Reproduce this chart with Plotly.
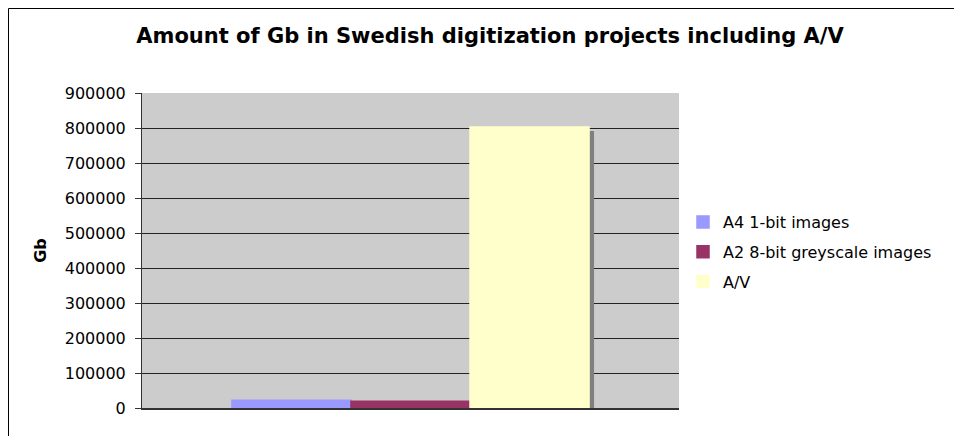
import plotly.graph_objects as go

categories = [""]
series_names = ["A4 1-bit images", "A2 8-bit greyscale images", "A/V"]
series_values = [[22000], [19500], [803000]]
colors = ["#9999FF", "#993366", "#FFFFCC"]
y_ticks = [0, 100000, 200000, 300000, 400000, 500000, 600000, 700000, 800000, 900000]

# page body has an 8px margin; figure sized so that it fits the 962x436 window
OFF = 8
W, H = 962 - OFF, 436 - OFF
L, T = 142 - OFF, 93 - OFF
R = W - (679 - OFF)
B = H - (408 - OFF)
pw, ph = W - L - R, H - T - B

ymax = 900000
dx = 5 / pw          # shadow offset (category units)
dy = 4 / ph * ymax   # shadow offset (value units)

fig = go.Figure()

# shadows on base axes
for name, vals in zip(series_names, series_values):
    fig.add_trace(go.Bar(x=categories, y=vals, marker=dict(color="#808080", line=dict(width=0)),
                         showlegend=False, hoverinfo="skip", xaxis="x", yaxis="y"))

# real bars on overlay axes
for i, (name, vals, c) in enumerate(zip(series_names, series_values, colors)):
    fig.add_trace(go.Bar(x=categories, y=vals, name=name, legendgroup=str(i),
                         marker=dict(color=c, line=dict(width=1.5, color=c)),
                         xaxis="x2", yaxis="y2"))

font = "Verdana, DejaVu Sans, sans-serif"
fig.update_layout(
    width=W, height=H,
    margin=dict(l=L, r=R, t=T, b=B),
    paper_bgcolor="white",
    plot_bgcolor="#CCCCCC",
    barmode="group",
    bargap=0.335,
    bargroupgap=0,
    font=dict(family=font, size=16, color="black"),
    title=dict(text="<b>Amount of Gb in Swedish digitization projects including A/V</b>",
               x=(490 - OFF) / W, xanchor="center", y=1 - (36 - OFF) / H, yanchor="middle",
               font=dict(family=font, size=21, color="black")),
    xaxis=dict(range=[-0.5 - dx, 0.5 - dx], showticklabels=False, showgrid=False,
               zeroline=False, showline=False, ticks=""),
    yaxis=dict(range=[dy, ymax + dy], showticklabels=False, showgrid=False,
               zeroline=False, showline=False, ticks=""),
    xaxis2=dict(overlaying="x", range=[-0.5, 0.5], showticklabels=False, showgrid=False,
                zeroline=False, showline=True, linecolor="#333333", linewidth=2, ticks="",
                anchor="y2"),
    yaxis2=dict(overlaying="y", range=[0, ymax], tickvals=y_ticks,
                ticktext=[str(v) for v in y_ticks],
                showgrid=True, gridcolor="#222222", gridwidth=1,
                zeroline=False, showline=True, linecolor="#333333", linewidth=1,
                ticks="outside", ticklen=6, tickcolor="#333333", ticklabelstandoff=6,
                tickfont=dict(family=font, size=16, color="black"),
                title=dict(text="<b>Gb</b>", font=dict(family=font, size=16, color="black"), standoff=14),
                anchor="x2", side="left"),
    legend=dict(x=(683 - OFF - L) / pw, y=(H - B - (205 - OFF)) / ph, xanchor="left", yanchor="top",
                traceorder="grouped", tracegroupgap=6, itemwidth=30,
                font=dict(family=font, size=16, color="black"), bgcolor="rgba(0,0,0,0)"),
    shapes=[dict(type="rect", xref="paper", yref="paper",
                 x0=(0.5 - L) / pw, x1=(W + 5 - L) / pw,
                 y0=-(B + 5) / ph, y1=(H - B - 0.5) / ph,
                 line=dict(color="black", width=1), fillcolor="rgba(0,0,0,0)", layer="below")],
)

fig.write_html("out.html")
